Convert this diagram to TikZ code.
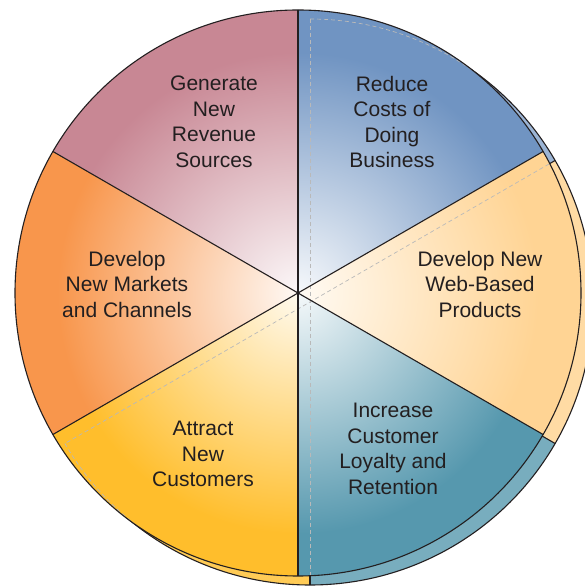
\documentclass[tikz,border=0pt]{standalone}
\usepackage{fontspec}
\setmainfont{Liberation Sans}
\usetikzlibrary{calc}

\definecolor{pieline}{RGB}{35,31,32}
\definecolor{pietext}{RGB}{35,31,32}
\definecolor{mauve}{RGB}{200,135,148}
\definecolor{steel}{RGB}{112,148,194}
\definecolor{peach}{RGB}{255,212,148}
\definecolor{teal}{RGB}{86,152,174}
\definecolor{gold}{RGB}{255,190,44}
\definecolor{tangerine}{RGB}{248,150,76}

\begin{document}
\begin{tikzpicture}[x=1pt, y=1pt, line join=round,
    edge/.style={draw=pieline, line width=1.1pt},
    hidden/.style={draw=gray!55, line width=0.7pt, dash pattern=on 4pt off 3pt},
    label/.style={font=\fontsize{21}{25.5}\selectfont, text=pietext, align=center}]

        \useasboundingbox (0,0) rectangle (584,586);
        \def\R{283} % radius of the pie
        \coordinate (c) at (298,293); % front pie centre
        \coordinate (b) at (310,284); % back pie centre (depth)

        % back pie: rim that shows on the right and bottom
        \fill[steel!70!white] (b) -- ++(90:\R) arc (90:30:\R) -- cycle;
        \fill[peach!85!white] (b) -- ++(30:\R) arc (30:-30:\R) -- cycle;
        \fill[teal!80!white] (b) -- ++(-30:\R) arc (-30:-90:\R) -- cycle;
        \fill[gold!80!white] (b) -- ++(-90:\R) arc (-90:-150:\R) -- cycle;
        \draw[edge] (b) circle (\R);
        \draw[edge] (b) -- ++(30:\R);
        \draw[edge] (b) -- ++(-30:\R);
        \draw[edge] (b) -- ++(-90:\R);

        % front pie: six shaded sectors
        \begin{scope}
            \clip (c) -- ++(90:\R) arc (90:150:\R) -- cycle;
            \fill[mauve] (c) circle (\R);
            \shade[inner color=mauve!6, outer color=mauve] (c) circle (0.85*\R);
        \end{scope}
        \begin{scope}
            \clip (c) -- ++(30:\R) arc (30:90:\R) -- cycle;
            \fill[steel] (c) circle (\R);
            \shade[inner color=steel!6, outer color=steel] (c) circle (0.85*\R);
        \end{scope}
        \begin{scope}
            \clip (c) -- ++(-30:\R) arc (-30:30:\R) -- cycle;
            \fill[peach] (c) circle (\R);
            \shade[inner color=peach!10, outer color=peach] (c) circle (0.85*\R);
        \end{scope}
        \begin{scope}
            \clip (c) -- ++(-90:\R) arc (-90:-30:\R) -- cycle;
            \fill[teal] (c) circle (\R);
            \shade[inner color=teal!6, outer color=teal] (c) circle (0.85*\R);
        \end{scope}
        \begin{scope}
            \clip (c) -- ++(210:\R) arc (210:270:\R) -- cycle;
            \fill[gold] (c) circle (\R);
            \shade[inner color=gold!8, outer color=gold] (c) circle (0.85*\R);
        \end{scope}
        \begin{scope}
            \clip (c) -- ++(150:\R) arc (150:210:\R) -- cycle;
            \fill[tangerine] (c) circle (\R);
            \shade[inner color=tangerine!6, outer color=tangerine] (c) circle (0.85*\R);
        \end{scope}

        % hidden edges of the back pie seen through the front
        \begin{scope}
            \clip (c) circle (\R);
            \draw[hidden] ($(b)+(90:\R)$) -- ($(b)+(270:\R)$);
            \draw[hidden] ($(b)+(30:\R)$) -- ($(b)+(210:\R)$);
            \draw[hidden] ($(b)+(90:\R)$) arc (90:30:\R);
            \draw[hidden] ($(b)+(210:\R)$) arc (210:270:\R);
        \end{scope}

        % front outline and dividing lines
        \draw[edge] (c) circle (\R);
        \draw[edge] ($(c)+(90:\R)$) -- ($(c)+(270:\R)$);
        \draw[edge] ($(c)+(30:\R)$) -- ($(c)+(210:\R)$);
        \draw[edge] ($(c)+(150:\R)$) -- ($(c)+(330:\R)$);

        % sector labels
        \node[label] (revenue) at (214,464) {Generate\\New\\Revenue\\Sources};
        \node[label] (costs) at (392,464) {Reduce\\Costs of\\Doing\\Business};
        \node[label] (products) at (480,302) {Develop New\\Web-Based\\Products};
        \node[label] (markets) at (127,302) {Develop\\New Markets\\and Channels};
        \node[label] (loyalty) at (393,137) {Increase\\Customer\\Loyalty and\\Retention};
        \node[label] (customers) at (203,132) {Attract\\New\\Customers};

    \end{tikzpicture}
\end{document}
